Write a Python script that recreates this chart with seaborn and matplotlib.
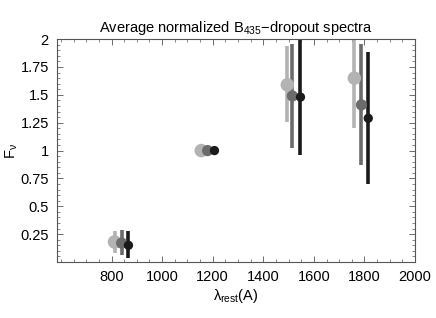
import numpy as np
import pandas as pd
import seaborn as sns
import matplotlib
matplotlib.use("Agg")
import matplotlib.pyplot as plt
from matplotlib.ticker import MultipleLocator

sns.set_style("ticks")
plt.rcParams['font.family'] = ['Liberation Sans', 'DejaVu Sans']
plt.rcParams['mathtext.fontset'] = 'custom'
plt.rcParams['mathtext.rm'] = 'Liberation Sans'
plt.rcParams['mathtext.it'] = 'Liberation Sans'
plt.rcParams['text.color'] = 'black'
plt.rcParams['axes.labelcolor'] = 'black'
plt.rcParams['xtick.labelcolor'] = 'black'
plt.rcParams['ytick.labelcolor'] = 'black'

# three sub-samples, four spectral bins each
sample = ['light'] * 4 + ['mid'] * 4 + ['dark'] * 4
wave = [812, 1155, 1495, 1760,
        840, 1180, 1515, 1788,
        867, 1207, 1547, 1815]
flux = [0.18, 1.00, 1.59, 1.65,
        0.17, 1.00, 1.49, 1.41,
        0.15, 1.00, 1.48, 1.29]
lo = [0.08, 1.00, 1.26, 1.20,
      0.06, 1.00, 1.02, 0.87,
      0.04, 1.00, 0.96, 0.70]
hi = [0.28, 1.00, 1.94, 2.15,
      0.29, 1.00, 1.96, 1.96,
      0.28, 1.00, 2.00, 1.88]

df = pd.DataFrame({'sample': sample, 'wave': wave, 'flux': flux, 'lo': lo, 'hi': hi})
colors = {'light': '#b3b3b3', 'mid': '#6b6b6b', 'dark': '#1a1a1a'}
sizes = {'light': 95, 'mid': 65, 'dark': 45}

fig = plt.figure(figsize=(4.36, 3.18), dpi=100)
ax = fig.add_axes([0.131, 0.176, 0.821, 0.701])

for name, grp in df.groupby('sample', sort=False):
    ax.vlines(grp['wave'], grp['lo'], grp['hi'], colors=colors[name], lw=2.6, zorder=2)

sns.scatterplot(data=df, x='wave', y='flux', hue='sample', palette=colors,
                size='sample', sizes=sizes, edgecolor='none', legend=False,
                ax=ax, zorder=3)

ax.set_xlim(585, 2000)
ax.set_ylim(0, 2)
ax.set_xticks([800, 1000, 1200, 1400, 1600, 1800, 2000])
ax.set_yticks([0.25, 0.5, 0.75, 1, 1.25, 1.5, 1.75, 2])
ax.set_yticklabels(['0.25', '0.5', '0.75', '1', '1.25', '1.5', '1.75', '2'])
ax.xaxis.set_minor_locator(MultipleLocator(50))
ax.yaxis.set_minor_locator(MultipleLocator(0.05))
ax.tick_params(which='both', direction='in', top=True, right=True, labelsize=10.5,
               color='#555555', pad=6)
ax.tick_params(which='major', length=4, width=0.6)
ax.tick_params(which='minor', length=2, width=0.5)
for s in ax.spines.values():
    s.set_linewidth(0.8)
    s.set_color('#555555')

ax.set_title(r'Average normalized B$_{435}$$-$dropout spectra', fontsize=10.5, pad=5)
ax.set_xlabel(r'$\lambda_{\rm rest}$(A)', fontsize=10.5, labelpad=2)
ax.set_ylabel(r'F$_\nu$', fontsize=10.5, labelpad=3)
ax.yaxis.set_label_coords(-0.105, 0.5)

fig.savefig('out.png', dpi=100)
